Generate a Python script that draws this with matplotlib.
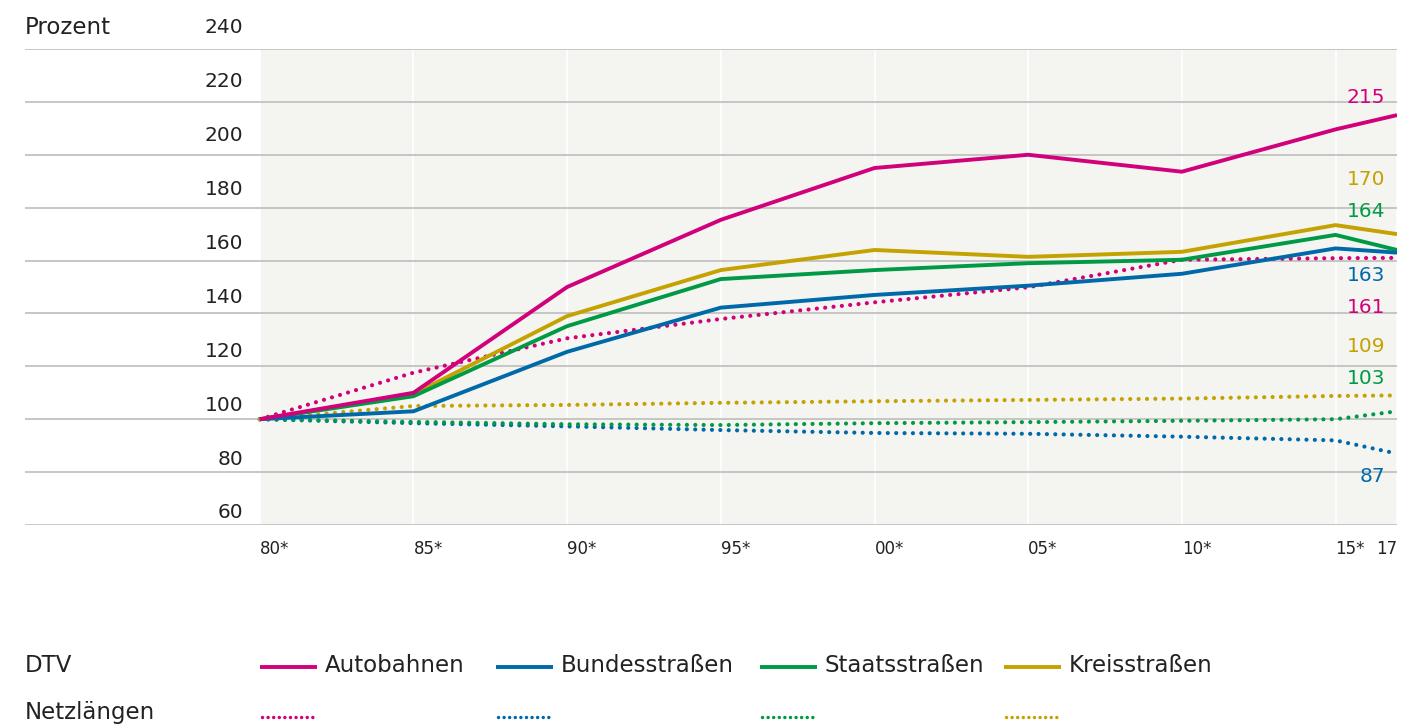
import matplotlib
matplotlib.use("Agg")
import matplotlib.pyplot as plt
from matplotlib.lines import Line2D

plt.rcParams["font.family"] = ["DejaVu Sans"]

# Jahre (x-Achse)
years = [1980, 1985, 1990, 1995, 2000, 2005, 2010, 2015, 2017]
year_labels = ["80*", "85*", "90*", "95*", "00*", "05*", "10*", "15*", "17"]

# DTV (Prozent, 1980 = 100)
dtv_autobahn = [100, 110, 150, 175.4, 195, 200, 193.6, 209.6, 215]
dtv_bundes = [100, 103, 125.5, 142.2, 147, 150.5, 155, 164.6, 163]
dtv_staats = [100, 108.7, 135.2, 153, 156.4, 159, 160.3, 169.7, 164]
dtv_kreis = [100, 109.5, 139, 156.4, 164, 161.4, 163.3, 173.4, 170]

# Netzlaengen (Prozent, 1980 = 100)
netz_autobahn = [100, 117.6, 130.6, 137.9, 144.2, 149.9, 160.3, 160.9, 161]
netz_bundes = [100, 98.5, 97.3, 95.9, 94.8, 94.5, 93.4, 92, 87]
netz_staats = [100, 99, 98.1, 97.8, 98.5, 98.9, 99.4, 100, 103]
netz_kreis = [100, 105, 105.4, 106.2, 106.8, 107.3, 107.8, 108.8, 109]

names = ["Autobahnen", "Bundesstraßen", "Staatsstraßen", "Kreisstraßen"]
colors = ["#d1007b", "#0069aa", "#009a46", "#c4a200"]

yticks = [60, 80, 100, 120, 140, 160, 180, 200, 220, 240]

# Endwerte rechts (Text, Farbe, Position)
end_labels = ["215", "170", "164", "163", "161", "109", "103", "87"]
end_colors = [colors[0], colors[3], colors[2], colors[1], colors[0], colors[3], colors[2], colors[1]]
end_pos = [221.5, 190.6, 178.6, 154.3, 142.1, 127.6, 115.4, 78.4]

txt = "#222222"
fig = plt.figure(figsize=(14.21, 7.24), dpi=100)
ax = fig.add_axes([25 / 1421, 199 / 724, 1372 / 1421, 476 / 724])
ax.set_xlim(1972.36, 2017)
ax.set_ylim(60, 240)

ax.axvspan(years[0], years[-1], color="#f4f4f0", lw=0, zorder=0)
for x in years:
    ax.axvline(x, color="white", lw=1.3, zorder=1)
for v in yticks:
    ax.axhline(v, color="#bdbdbd", lw=1.2, zorder=1)

for s in ax.spines.values():
    s.set_visible(False)
ax.set_xticks([])
ax.set_yticks([])

netz = [netz_autobahn, netz_bundes, netz_staats, netz_kreis]
dtv = [dtv_autobahn, dtv_bundes, dtv_staats, dtv_kreis]
dot = (0, (0.01, 2.0))
for vals, c in zip(netz, colors):
    ax.plot(years, vals, color=c, lw=3, linestyle=dot, dash_capstyle="round", zorder=2)
for i in [3, 2, 1, 0]:
    ax.plot(years, dtv[i], color=colors[i], lw=2.8, solid_capstyle="butt", zorder=3)

# y-Beschriftung ueber den Gitterlinien
for v in yticks:
    off = (12 + (v - 60) * 0.055) * 0.72
    ax.annotate(str(v), xy=(years[0], v), xytext=(-12, off), textcoords="offset points",
                ha="right", va="center", fontsize=14.5, color=txt)
ax.annotate("Prozent", xy=(0, 240), xycoords=("axes fraction", "data"), xytext=(0, 22 * 0.72),
            textcoords="offset points", ha="left", va="center", fontsize=16.5, color=txt)

# x-Beschriftung
for x, lab in zip(years, year_labels):
    ax.annotate(lab, xy=(x, 60), xytext=(0, -17.5), textcoords="offset points",
                ha="right" if lab == "17" else "left", va="center", fontsize=12, color=txt)

# Endwerte
for lab, c, p in zip(end_labels, end_colors, end_pos):
    ax.annotate(lab, xy=(years[-1], p), xytext=(-8.5, 0), textcoords="offset points",
                ha="right", va="center", fontsize=14.5, color=c)

# Legende
W, H = 1421, 724
fig.text(25 / W, 1 - 665 / H, "DTV", fontsize=16.5, color=txt, va="center")
fig.text(25 / W, 1 - 712 / H, "Netzlängen", fontsize=16.5, color=txt, va="center")
sw_x = [260, 496, 760, 1004]
for name, c, x0 in zip(names, colors, sw_x):
    fig.add_artist(Line2D([x0 / W, (x0 + 57) / W], [1 - 667 / H] * 2, color=c, lw=2.8,
                          solid_capstyle="butt"))
    fig.text((x0 + 65) / W, 1 - 665 / H, name, fontsize=16.5, color=txt, va="center")
    fig.add_artist(Line2D([(x0 + 2) / W, (x0 + 57) / W], [1 - 717 / H] * 2, color=c, lw=2.5,
                          linestyle=(0, (0.01, 1.6)), dash_capstyle="round"))

fig.savefig("out.png", dpi=100)
